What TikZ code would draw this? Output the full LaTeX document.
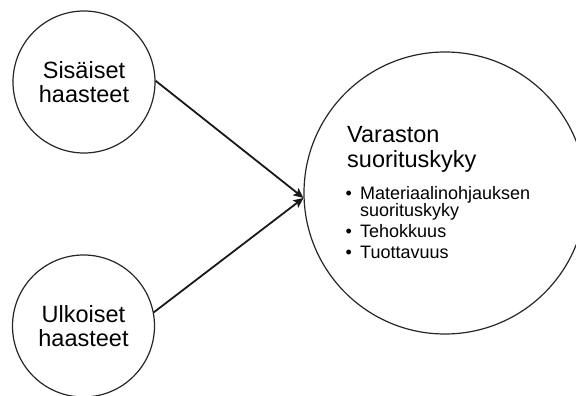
\documentclass[tikz,border=0pt]{standalone}
\usepackage{fontspec}
\setmainfont{Liberation Sans}
\usetikzlibrary{arrows.meta}
\begin{document}
\begin{tikzpicture}[x=1pt,y=-1pt,
  bubble/.style={circle, draw=black!85, line width=1.2pt, inner sep=0pt,
    minimum size=142pt, align=center, font=\fontsize{23.5}{24}\selectfont},
  bigbubble/.style={circle, draw=black!85, line width=1.2pt, inner sep=0pt,
    minimum size=282pt},
  title/.style={inner sep=0pt, anchor=base west, font=\fontsize{23.5}{24}\selectfont},
  item/.style={inner sep=0pt, anchor=base west, font=\fontsize{18}{20}\selectfont},
  conn/.style={-{Stealth[length=10pt,width=9pt,inset=2pt]}, line width=1.8pt, draw=black!90}]
\useasboundingbox (0,0) rectangle (576,396);
\node[bubble] (sis) at (84,82) {Sisäiset\\haasteet};
\node[bubble] (ulk) at (83.5,326) {Ulkoiset\\haasteet};
\node[bigbubble] (var) at (445,193) {};
\node[title] (t1) at (347,142) {Varaston};
\node[title] (t2) at (347,167) {suorituskyky};
\node[item] (b1) at (345.5,199) {\makebox[14.5pt][l]{•}Materiaalinohjauksen};
\node[item] (b1b) at (360,216) {suorituskyky};
\node[item] (b2) at (345.5,237) {\makebox[14.5pt][l]{•}Tehokkuus};
\node[item] (b3) at (345.5,258) {\makebox[14.5pt][l]{•}Tuottavuus};
\draw[conn] (sis.1) -- (var.182);
\draw[conn] (ulk.11) -- (var.182);
\end{tikzpicture}
\end{document}
